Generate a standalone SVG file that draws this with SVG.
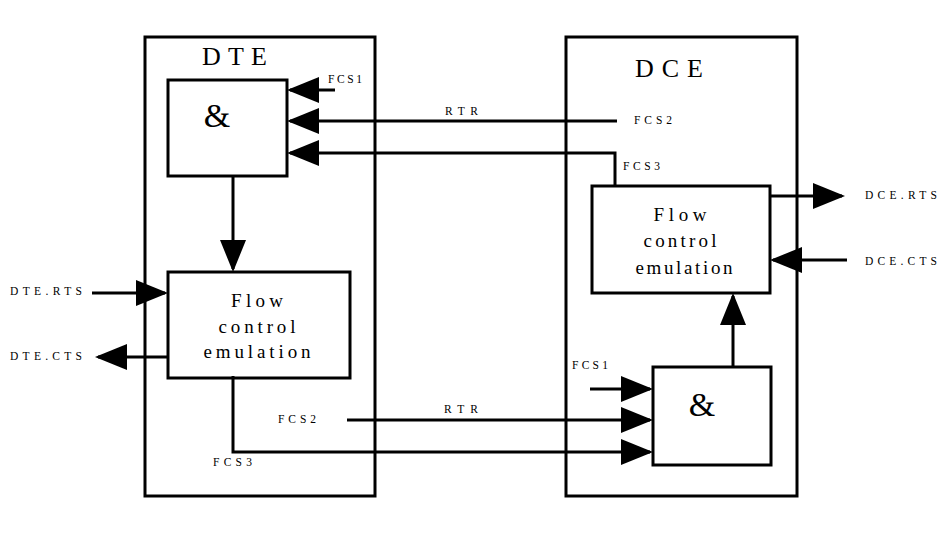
<svg xmlns="http://www.w3.org/2000/svg" width="941" height="545" viewBox="0 0 941 545">
<style>
.box{fill:#fff;stroke:#000;stroke-width:3}
.outer{fill:none;stroke:#000;stroke-width:3}
.ln{fill:none;stroke:#000;stroke-width:3;marker-end:url(#ah)}
.t{font-family:"Liberation Serif","Times New Roman",serif;fill:#000}
.s{font-size:11.5px}
.m{font-size:19px;text-anchor:middle}
.b{font-size:26px}
.amp{font-size:34px;text-anchor:middle}
</style>
<defs>
<marker id="ah" viewBox="0 0 32 26" refX="29" refY="13" markerWidth="32" markerHeight="26" markerUnits="userSpaceOnUse" orient="auto">
<path d="M0,0 L32,13 L0,26 Z" fill="#000"/>
</marker>
</defs>
<g id="dte">
<rect class="outer" x="145" y="37" width="230" height="459"/>
<text class="t b" x="202" y="65" textLength="65">DTE</text>
</g>
<g id="dce">
<rect class="outer" x="566" y="37" width="231" height="459"/>
<text class="t b" x="635" y="77" textLength="68">DCE</text>
</g>
<g id="dte-and">
<rect class="box" x="168" y="80" width="119" height="96"/>
<text class="t amp" x="217" y="127">&amp;</text>
</g>
<g id="dte-flow">
<rect class="box" x="168" y="272" width="182" height="106"/>
<text class="t m" x="257" y="307" textLength="52">Flow</text>
<text class="t m" x="257" y="333" textLength="77">control</text>
<text class="t m" x="257" y="358" textLength="107">emulation</text>
</g>
<g id="dce-flow">
<rect class="box" x="592" y="186" width="178" height="107"/>
<text class="t m" x="680" y="221" textLength="53">Flow</text>
<text class="t m" x="680" y="247" textLength="73">control</text>
<text class="t m" x="684" y="274" textLength="97">emulation</text>
</g>
<g id="dce-and">
<rect class="box" x="653" y="367" width="118" height="98"/>
<text class="t amp" x="702" y="416">&amp;</text>
</g>
<g id="connectors">
<path class="ln" d="M335,90 L290,90"/>
<path class="ln" d="M617,121 L290,121"/>
<path class="ln" d="M615,185 L615,153 L290,153"/>
<path class="ln" d="M233,176 L233,269"/>
<path class="ln" d="M92,293 L165,293"/>
<path class="ln" d="M168,357 L98,357"/>
<path class="ln" d="M233,376 L233,452 L650,452"/>
<path class="ln" d="M347,420 L650,420"/>
<path class="ln" d="M590,389 L650,389"/>
<path class="ln" d="M733,367 L733,296"/>
<path class="ln" d="M770,196 L842,196"/>
<path class="ln" d="M847,260 L773,260"/>
</g>
<g id="labels">
<text class="t s" x="328" y="83" textLength="34">FCS1</text>
<text class="t s" x="445" y="115" textLength="33">RTR</text>
<text class="t s" x="634" y="124" textLength="38">FCS2</text>
<text class="t s" x="623" y="170" textLength="37">FCS3</text>
<text class="t s" x="865" y="199" textLength="72">DCE.RTS</text>
<text class="t s" x="865" y="265" textLength="72">DCE.CTS</text>
<text class="t s" x="10" y="295" textLength="72">DTE.RTS</text>
<text class="t s" x="10" y="360" textLength="72">DTE.CTS</text>
<text class="t s" x="278" y="423" textLength="38">FCS2</text>
<text class="t s" x="444" y="413" textLength="34">RTR</text>
<text class="t s" x="213" y="466" textLength="39">FCS3</text>
<text class="t s" x="572" y="369" textLength="36">FCS1</text>
</g>
</svg>
